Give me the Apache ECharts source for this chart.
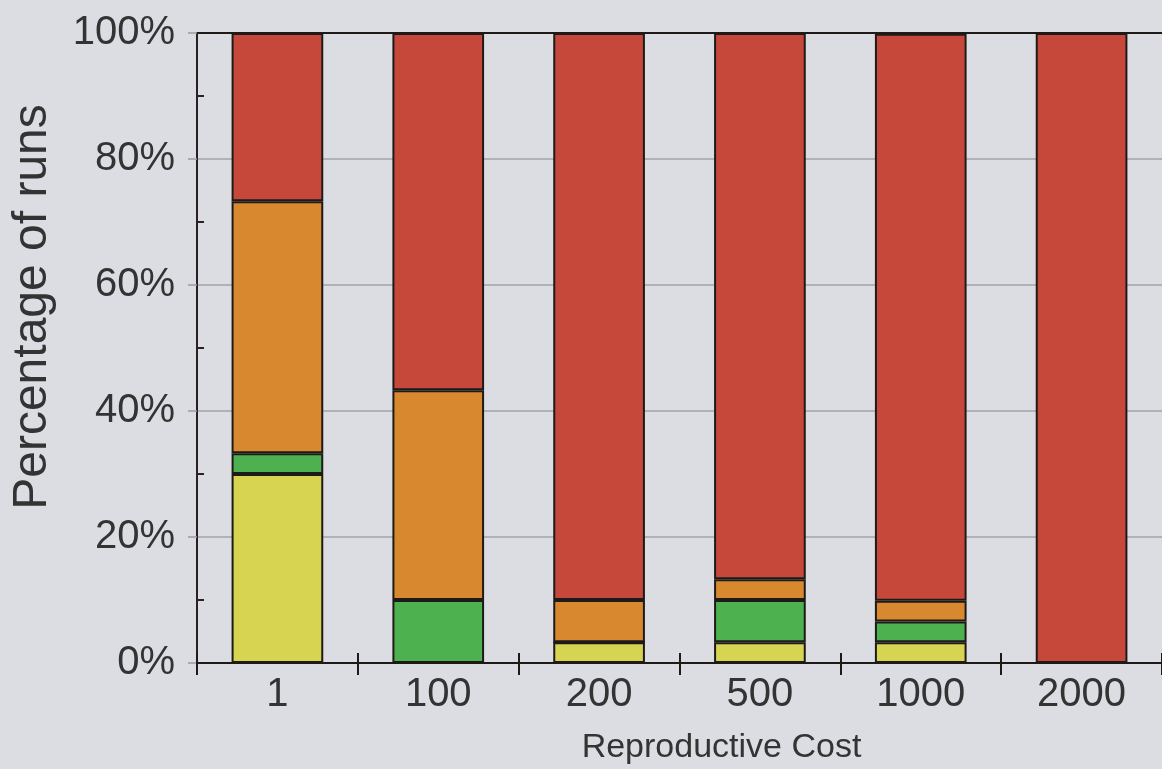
<!DOCTYPE html>
<html>
<head>
<meta charset="utf-8">
<script src="https://cdn.jsdelivr.net/npm/echarts@6/dist/echarts.min.js"></script>
<style>
html,body{margin:0;padding:0;background:#dcdde2;}
#chart{width:1162px;height:769px;}
</style>
</head>
<body>
<div id="chart"></div>
<script>
const categories = ['1', '100', '200', '500', '1000', '2000'];
const yellowVals = [30, 0, 3.3, 3.3, 3.3, 0];
const greenVals  = [3.3, 10, 0, 6.7, 3.3, 0];
const orangeVals = [40, 33.3, 6.7, 3.3, 3.3, 0];
const redVals    = [26.7, 56.7, 90, 86.7, 90, 100];
const yTicks = [0, 20, 40, 60, 80, 100];
const yMinorTicks = [10, 30, 50, 70, 90];

const colors = { yellow: '#d6d450', green: '#4db150', orange: '#d8892f', red: '#c6483a' };
const textColor = '#333333';
const font = 'Liberation Sans, Arial, sans-serif';
const gridLeft = 197, gridRight = 0, chartWidth = 1162;

function barSeries(name, data, color) {
  return {
    name: name, type: 'bar', stack: 'total', data: data,
    barWidth: '57%', xAxisIndex: 0, yAxisIndex: 0,
    itemStyle: { color: color, borderColor: '#1e1a18', borderWidth: 2 }
  };
}

const chart = echarts.init(document.getElementById('chart'), null, { renderer: 'canvas' });
chart.setOption({
  backgroundColor: '#dcdde2',
  animation: false,
  grid: { left: gridLeft, right: gridRight, top: 33, bottom: 106, containLabel: false, outerBoundsMode: 'none' },
  xAxis: [
    {
      type: 'category', data: categories, position: 'bottom',
      axisLine: { show: true, lineStyle: { color: '#1e1a18', width: 2 } },
      axisTick: { show: true, length: 12, lineStyle: { color: '#1e1a18', width: 2 } },
      axisLabel: { fontSize: 40, color: textColor, fontFamily: font, margin: 12 },
      name: 'Reproductive Cost', nameLocation: 'middle', nameGap: 68,
      nameTextStyle: { fontSize: 34, color: textColor, fontFamily: font, padding: [0, 0, 0, 84] }
    },
    {
      type: 'category', data: categories, position: 'bottom', offset: 0,
      axisLine: { show: false },
      axisTick: { show: true, inside: true, length: 10, lineStyle: { color: '#1e1a18', width: 2 } },
      axisLabel: { show: false }
    },
    {
      type: 'category', data: categories, position: 'top', offset: 0,
      axisLine: { show: true, lineStyle: { color: '#1e1a18', width: 2 } },
      axisTick: { show: false },
      axisLabel: { show: false }
    }
  ],
  yAxis: [
    {
      type: 'value', min: yTicks[0], max: yTicks[yTicks.length - 1], interval: 20, position: 'left',
      axisLine: { show: true, lineStyle: { color: '#2a2020', width: 2 } },
      axisTick: { show: true, length: 9, lineStyle: { color: '#9a9aa2', width: 1.5 } },
      axisLabel: { fontSize: 40, color: textColor, fontFamily: font, margin: 22, formatter: '{value}%' },
      splitLine: { show: true, lineStyle: { color: '#a2a3aa', width: 1.5 } },
      name: 'Percentage of runs', nameLocation: 'middle', nameGap: 140,
      nameTextStyle: { fontSize: 48, color: textColor, fontFamily: font, padding: [0, 0, 0, 82] }
    },
    {
      type: 'value', min: 0, max: 100, interval: 10, position: 'right',
      offset: -(chartWidth - gridLeft - gridRight),
      axisLine: { show: false },
      axisTick: { show: true, length: 7, customValues: yMinorTicks,
                  lineStyle: { color: '#2a2020', width: 2 } },
      axisLabel: { show: false },
      splitLine: { show: false }
    }
  ],
  series: [
    barSeries('yellow', yellowVals, colors.yellow),
    barSeries('green', greenVals, colors.green),
    barSeries('orange', orangeVals, colors.orange),
    barSeries('red', redVals, colors.red)
  ]
});
</script>
</body>
</html>
